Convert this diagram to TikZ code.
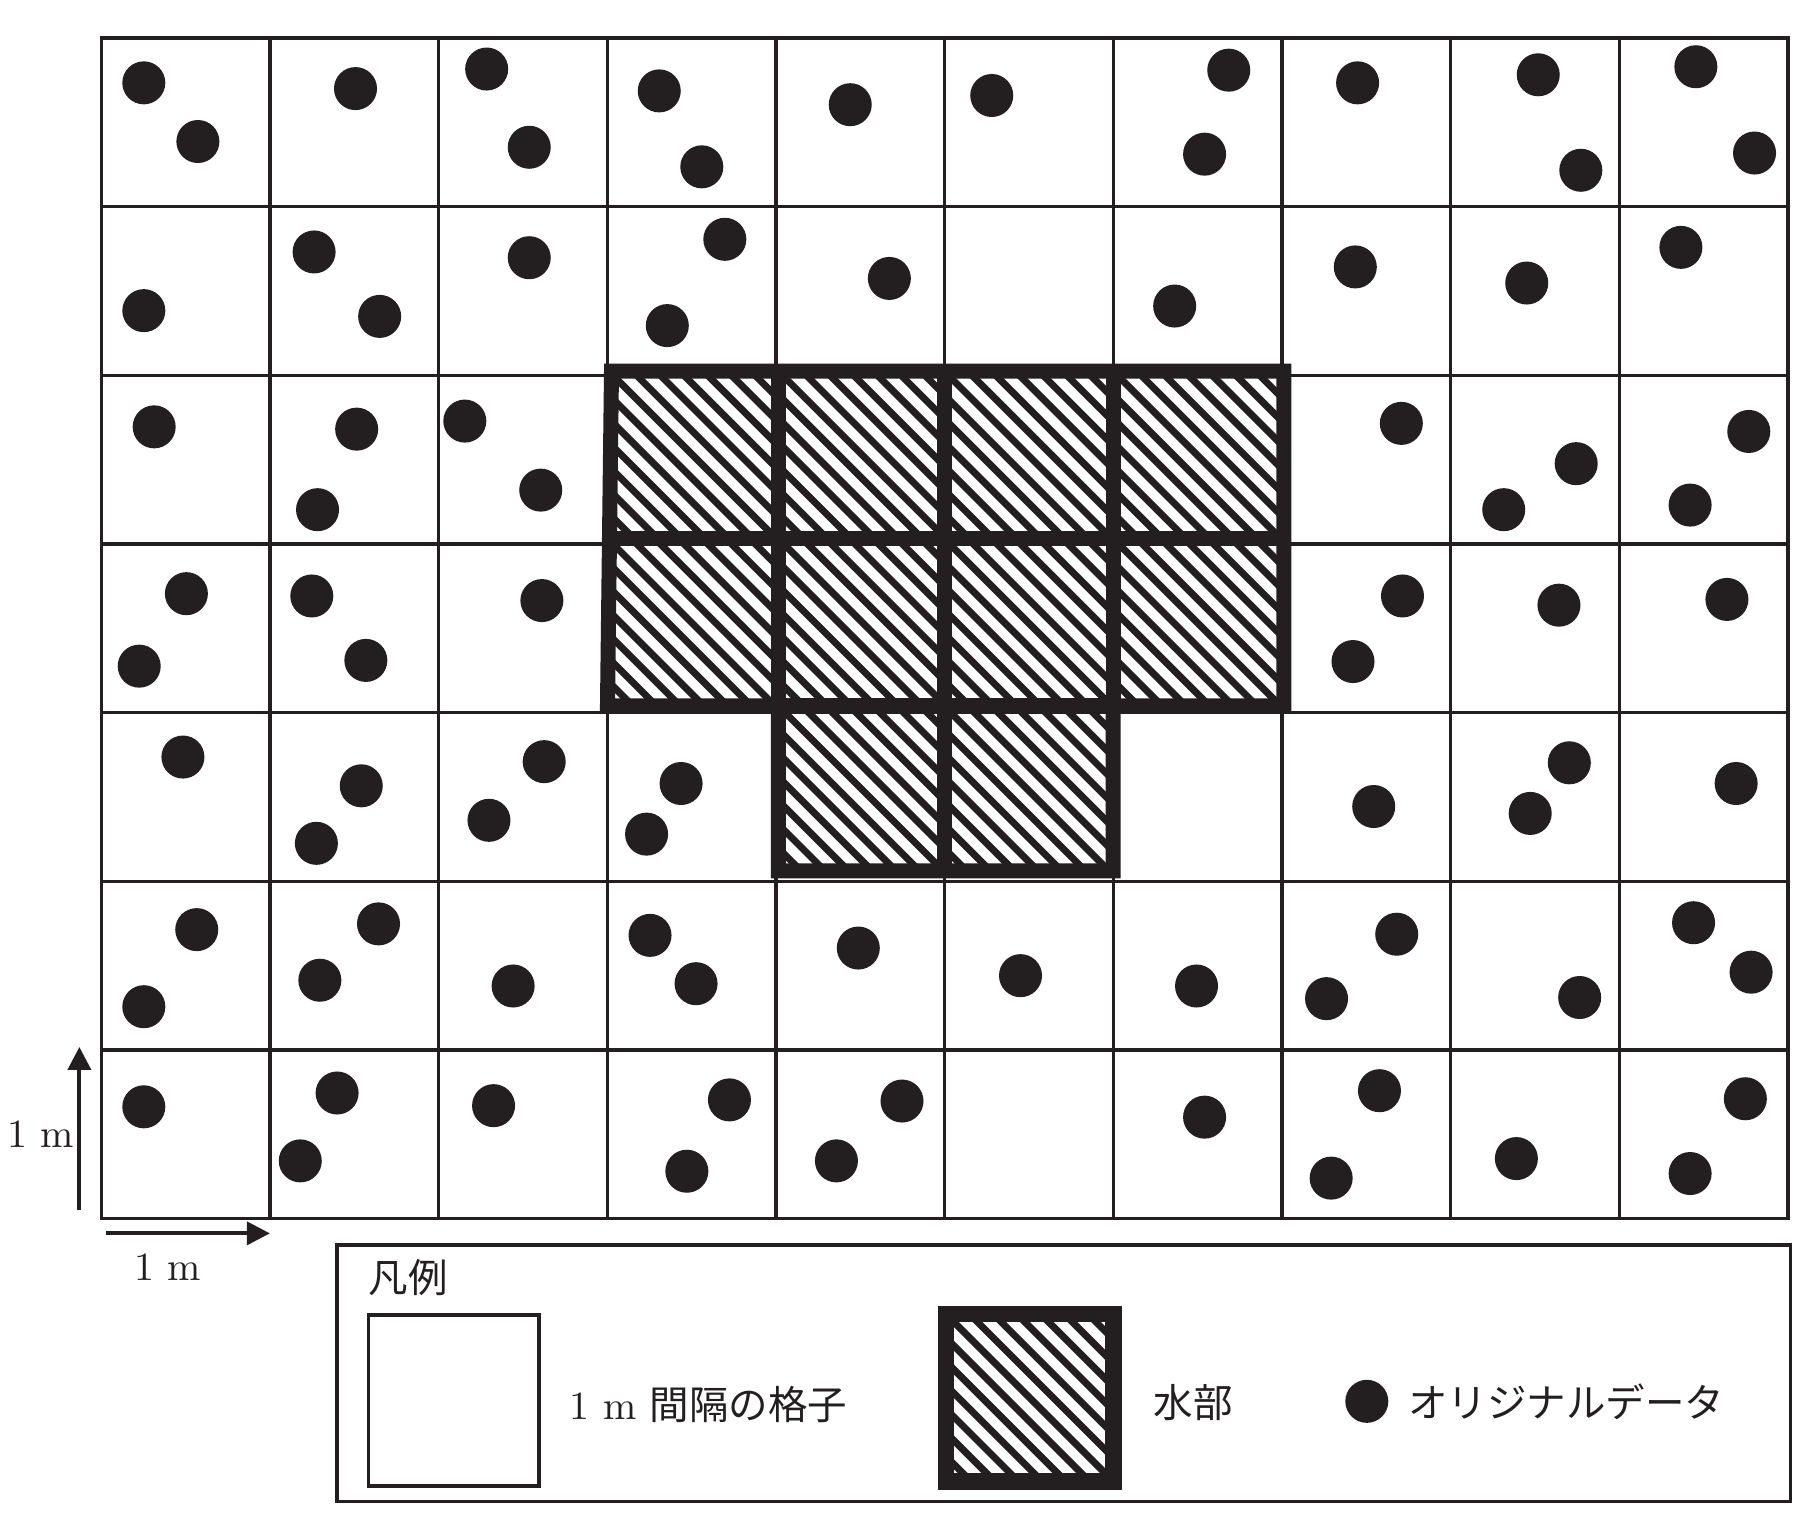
\documentclass[tikz,border=0pt]{standalone}
\usepackage{fontspec}
\newfontfamily\cjk{Noto Sans CJK JP}
\newfontfamily\lmten{lmroman10-regular.otf}
\usetikzlibrary{arrows.meta}
\definecolor{ink}{HTML}{231F20}
\newcommand\hatchcell[4]{%
  \begin{scope}
    \clip (#1,#2) rectangle (#3,#4);
    \foreach \k in {-8,...,8} \draw[hatchline] ({#1+\k*20.6},#2) -- ++(175,175);
  \end{scope}}
\begin{document}
\begin{tikzpicture}[x=1.1505pt,y=-1.1505pt,
  gridline/.style={line width=3.3pt,draw=ink},
  thickline/.style={line width=15pt,draw=ink,line cap=rect,line join=miter},
  dot/.style={fill=ink},
  lbl/.style={inner sep=0pt,text=ink},
  hatchline/.style={line width=7pt,draw=ink},
  scalearrow/.style={line width=3.8pt,draw=ink,-{Triangle[width=23pt,length=23pt]}},
  latin/.style={font=\lmten\fontsize{40pt}{42pt}\selectfont},
  jp/.style={font=\cjk\fontsize{39.5pt}{40pt}\selectfont}]
\useasboundingbox (0,0) rectangle (1568,1331.6);
\fill[white] (0,0) rectangle (1568,1331.6);
% grid
\draw[gridline] (88,33) rectangle (1554,1059);
\foreach \i in {1,...,9} \draw[gridline] ({88+146.6*\i},33) -- ({88+146.6*\i},1059);
\foreach \j in {1,...,6} \draw[gridline] (88,{33+146.6*\j}) -- (1554,{33+146.6*\j});
% dots
\foreach \p in {
 (125,72),(172,123),(309,77),(423,60),(460,128),(573,79),(610,145),(739,91),(862,83),
 (1068,61),(1047,134),(1180,72),(1337,65),(1374,148),(1474,58),(1525,133),
 (125,270),(273,219),(330,275),(460,224),(630,208),(580,283),(773,242),(1021,266),
 (1178,232),(1327,246),(1461,215),
 (134,371),(310,373),(276,443),(404,366),(470,426),(1218,368),(1370,403),(1307,443),
 (1520,375),(1469,439),
 (162,516),(121,579),(271,518),(318,574),(471,522),(1219,518),(1176,575),(1355,526),(1501,521),
 (159,658),(314,683),(275,733),(473,662),(425,713),(592,681),(562,725),(1194,701),
 (1364,663),(1330,707),(1509,681),
 (171,808),(125,875),(329,803),(278,852),(446,857),(565,813),(605,855),(746,824),(887,848),
 (1040,857),(1214,812),(1153,868),(1373,867),(1472,802),(1522,845),
 (125,962),(293,950),(261,1009),(429,961),(634,956),(597,1018),(784,957),(727,1009),
 (1047,971),(1199,948),(1157,1024),(1318,1007),(1517,955),(1469,1020)}
 \fill[dot] \p circle[radius=18.7];
% water hatching
\hatchcell{529}{322.5}{676.5}{468}
\hatchcell{676.5}{322.5}{820.5}{468}
\hatchcell{820.5}{322.5}{967.5}{468}
\hatchcell{967.5}{322.5}{1116}{468}
\hatchcell{528}{468}{676.5}{613.5}
\hatchcell{676.5}{468}{820.5}{613.5}
\hatchcell{820.5}{468}{967.5}{613.5}
\hatchcell{967.5}{468}{1116}{613.5}
\hatchcell{676.5}{613.5}{820.5}{757}
\hatchcell{820.5}{613.5}{967.5}{757}
% water borders
\draw[thickline] (531.5,322.5) -- (1116,322.5) -- (1116,613.5) -- (967.5,613.5)
  -- (967.5,757) -- (676.5,757) -- (676.5,613.5) -- (528,613.5) -- cycle;
\draw[thickline] (529.7,468) -- (1116,468);
\draw[thickline] (676.5,613.5) -- (967.5,613.5);
\draw[thickline] (676.5,322.5) -- (676.5,613.5);
\draw[thickline] (820.5,322.5) -- (820.5,757);
\draw[thickline] (967.5,322.5) -- (967.5,613.5);
% scale arrows
\coordinate (vs) at (69,1052);
\coordinate (ve) at (69,910);
\coordinate (hs) at (92,1072);
\coordinate (he) at (234.6,1072);
\draw[scalearrow] (vs) -- (ve);
\draw[scalearrow] (hs) -- (he);
\node[lbl,latin,anchor=base] (vlabel) at (35.5,997) {1 m};
\node[lbl,latin,anchor=base] (hlabel) at (145.6,1112.6) {1 m};
% legend
\draw[gridline] (293,1082) rectangle (1556,1305);
\node[lbl,jp] (hanrei) at (355,1110.5) {凡例};
\draw[line width=3.6pt,draw=ink] (320.4,1143) rectangle (468.5,1291.6);
\node[lbl,latin,anchor=base west] (gridlbl) at (495,1234) {1 m {\cjk\fontsize{39.5pt}{40pt}\selectfont 間隔の格子}};
\hatchcell{822.3}{1142.3}{967.7}{1287.7}
\draw[line width=16.5pt,draw=ink,line join=miter] (822.3,1142.3) rectangle (967.7,1287.7);
\node[lbl,jp] (mizu) at (1037,1219) {水部};
\fill[dot] (1188,1218) circle[radius=18.7];
\node[lbl,jp] (origdata) at (1361.5,1218) {オリジナルデータ};
\end{tikzpicture}
\end{document}
